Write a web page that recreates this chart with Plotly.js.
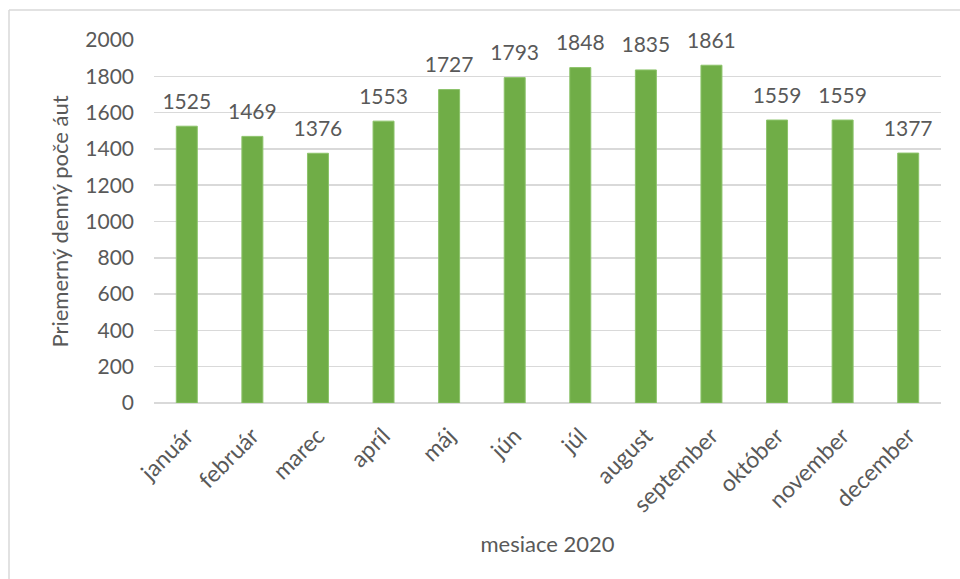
<!DOCTYPE html>
<html>
<head>
<meta charset="utf-8">
<script src="https://cdn.plot.ly/plotly-3.0.1.min.js"></script>
<style>
html,body{margin:0;padding:0;background:#fff;}
#chart{width:960px;height:579px;}
</style>
</head>
<body>
<div id="chart"></div>
<script>
const months = ["január","február","marec","apríl","máj","jún","júl","august","september","október","november","december"];
const values = [1525,1469,1376,1553,1727,1793,1848,1835,1861,1559,1559,1377];
const yTicks = [0,200,400,600,800,1000,1200,1400,1600,1800,2000];
const yTitle = "Priemerný denný poče áut";
const xTitle = "mesiace 2020";

const FONT = "Lato, 'Open Sans', sans-serif";
const GREY = "#595959";

const bars = {
  type: "bar",
  x: months,
  y: values,
  marker: {color: "#70AD47", line: {color: "#8cc36a", width: 1}},
  hoverinfo: "x+y",
  showlegend: false
};
const labels = {
  type: "scatter",
  mode: "markers+text",
  x: months,
  y: values,
  text: values.map(String),
  textposition: "top center",
  textfont: {family: FONT, size: 21, color: GREY},
  marker: {size: 18, opacity: 0},
  cliponaxis: false,
  hoverinfo: "skip",
  showlegend: false
};

const L = 154, R = 19, T = 40, B = 176;
const W = 960 - L - R, H = 579 - T - B;
const px = x => (x - L) / W;
const py = y => (579 - B - y) / H;

const layout = {
  width: 960, height: 579,
  margin: {l: L, r: R, t: T, b: B},
  paper_bgcolor: "#fff", plot_bgcolor: "#fff",
  font: {family: FONT, color: GREY, size: 20},
  bargap: 0.68,
  showlegend: false,
  xaxis: {
    type: "category",
    range: [-0.5, months.length - 0.5],
    tickangle: -45,
    tickfont: {family: FONT, size: 23, color: GREY},
    showgrid: false, zeroline: false,
    showline: false, ticks: "",
    ticklabelstandoff: 14,
    automargin: false,
    title: {text: xTitle, font: {family: FONT, size: 22, color: GREY}, standoff: 20}
  },
  yaxis: {
    range: [0, 2000],
    tickvals: yTicks,
    ticktext: yTicks.map(String),
    tickfont: {family: FONT, size: 21, color: GREY},
    showgrid: true, gridcolor: "#d9d9d9", gridwidth: 1.5,
    zeroline: true, zerolinecolor: "#d9d9d9", zerolinewidth: 1.5,
    showline: false, ticks: "",
    ticklabelstandoff: 19,
    automargin: false,
    title: {text: yTitle, font: {family: FONT, size: 22, color: GREY}, standoff: 10}
  },
  shapes: [
    {type: "line", xref: "paper", yref: "paper", x0: px(9), x1: px(9), y0: py(10), y1: py(579), line: {color: "#d9d9d9", width: 1.5}},
    {type: "line", xref: "paper", yref: "paper", x0: px(9), x1: px(960), y0: py(10), y1: py(10), line: {color: "#d9d9d9", width: 1.5}}
  ]
};

Plotly.newPlot("chart", [bars, labels], layout, {displayModeBar: false, staticPlot: true});
</script>
</body>
</html>
